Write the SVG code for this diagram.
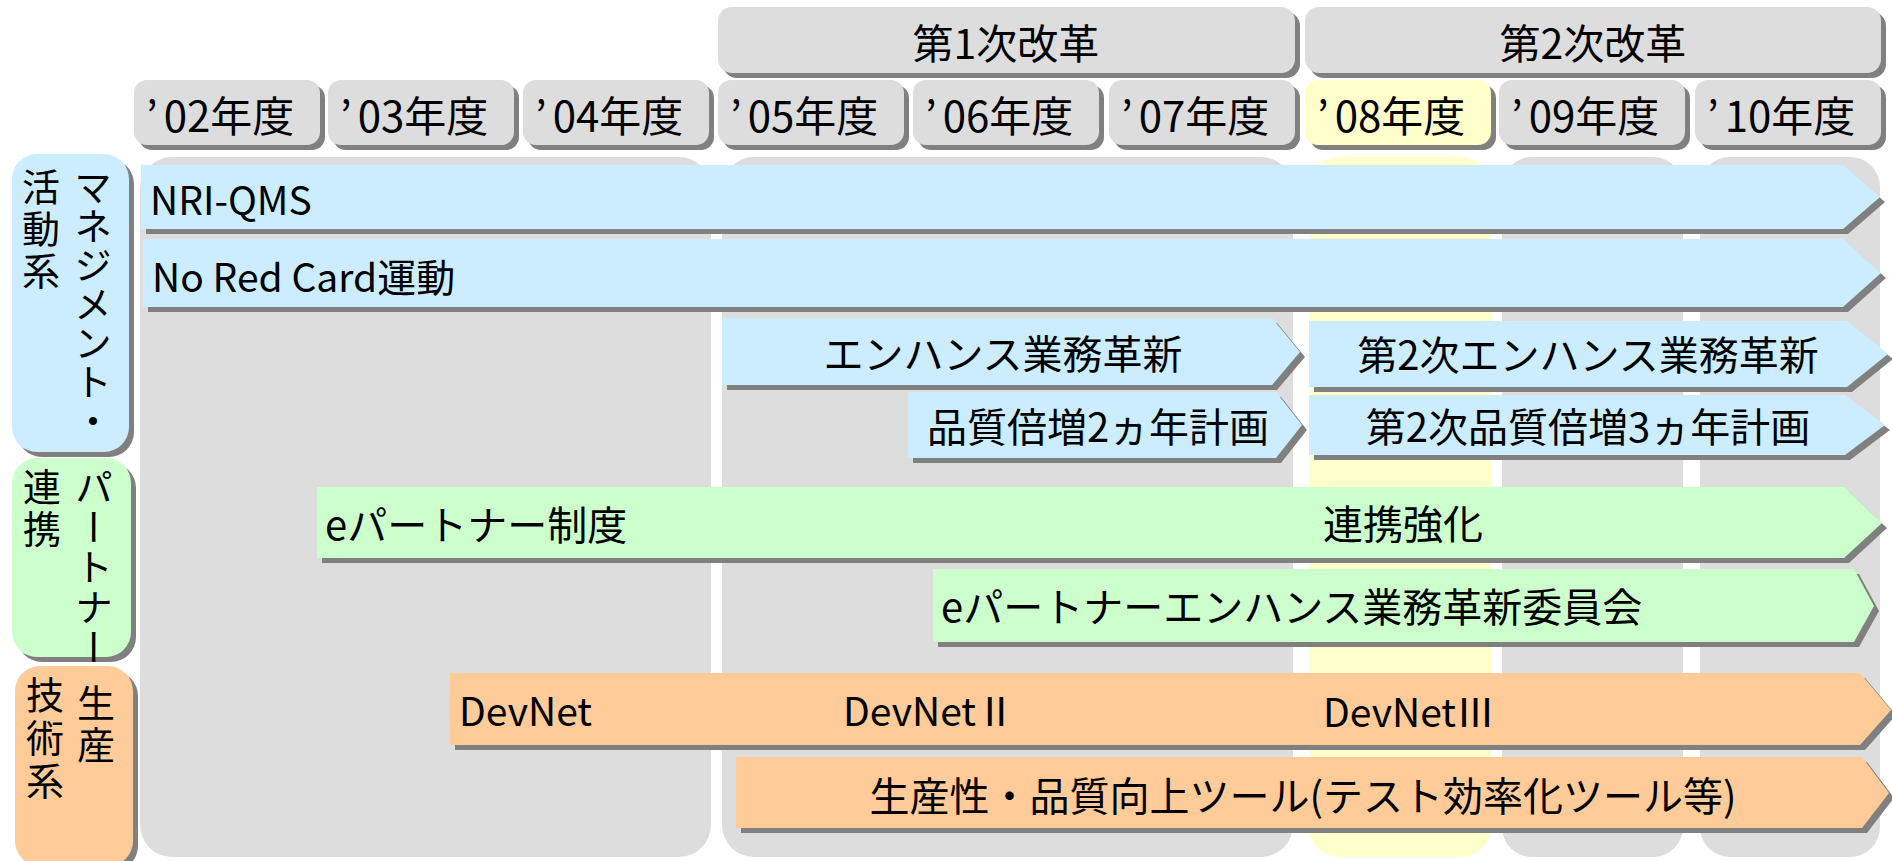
<svg xmlns="http://www.w3.org/2000/svg" width="1892" height="861" viewBox="0 0 1892 861">
<style>
text{font-family:"Noto Sans CJK JP","Noto Sans",sans-serif;fill:#000;}
.t40{font-size:40px;}
.yr{font-size:42px;}
.ph{font-size:41px;}
.lat{font-size:39px;}
.vt{font-size:38px;writing-mode:vertical-rl;}
.gray{fill:#DDDDDD;}
.sh{fill:#808080;}
.blue{fill:#CCECFF;}
.green{fill:#CCFFCC;}
.orange{fill:#FFCC99;}
.yellow{fill:#FFFFCC;}
</style>
<rect width="1892" height="861" fill="#FFFFFF"/>
<g id="columns">
<rect class="gray" x="140" y="157" width="571" height="700" rx="32"/>
<rect class="gray" x="722" y="157" width="571" height="700" rx="32"/>
<rect class="yellow" x="1309" y="157" width="182" height="700" rx="30"/>
<rect class="gray" x="1502" y="157" width="181" height="700" rx="30"/>
<rect class="gray" x="1700" y="157" width="180" height="700" rx="30"/>
</g>
<g id="phase1">
<rect class="sh" x="723" y="12" width="577" height="66" rx="14"/>
<rect class="gray" x="718" y="7" width="577" height="66" rx="14"/>
<text class="ph" x="1006" y="59" text-anchor="middle">第1次改革</text>
</g>
<g id="phase2">
<rect class="sh" x="1310" y="12" width="576" height="66" rx="14"/>
<rect class="gray" x="1305" y="7" width="576" height="66" rx="14"/>
<text class="ph" x="1593" y="59" text-anchor="middle">第2次改革</text>
</g>
<g id="y02"><rect class="sh" x="139" y="85" width="186" height="65" rx="13"/><rect class="gray" x="134" y="80" width="186" height="65" rx="13"/><text class="yr" x="146" y="132" dx="0 6">’02年度</text></g>
<g id="y03"><rect class="sh" x="333" y="85" width="186" height="65" rx="13"/><rect class="gray" x="328" y="80" width="186" height="65" rx="13"/><text class="yr" x="340" y="132" dx="0 6">’03年度</text></g>
<g id="y04"><rect class="sh" x="528" y="85" width="186" height="65" rx="13"/><rect class="gray" x="523" y="80" width="186" height="65" rx="13"/><text class="yr" x="535" y="132" dx="0 6">’04年度</text></g>
<g id="y05"><rect class="sh" x="723" y="85" width="186" height="65" rx="13"/><rect class="gray" x="718" y="80" width="186" height="65" rx="13"/><text class="yr" x="730" y="132" dx="0 6">’05年度</text></g>
<g id="y06"><rect class="sh" x="918" y="85" width="186" height="65" rx="13"/><rect class="gray" x="913" y="80" width="186" height="65" rx="13"/><text class="yr" x="925" y="132" dx="0 6">’06年度</text></g>
<g id="y07"><rect class="sh" x="1114" y="85" width="186" height="65" rx="13"/><rect class="gray" x="1109" y="80" width="186" height="65" rx="13"/><text class="yr" x="1121" y="132" dx="0 6">’07年度</text></g>
<g id="y08"><rect class="sh" x="1310" y="85" width="186" height="65" rx="13"/><rect class="yellow" x="1305" y="80" width="186" height="65" rx="13"/><text class="yr" x="1317" y="132" dx="0 6">’08年度</text></g>
<g id="y09"><rect class="sh" x="1504" y="85" width="186" height="65" rx="13"/><rect class="gray" x="1499" y="80" width="186" height="65" rx="13"/><text class="yr" x="1511" y="132" dx="0 6">’09年度</text></g>
<g id="y10"><rect class="sh" x="1700" y="85" width="186" height="65" rx="13"/><rect class="gray" x="1695" y="80" width="186" height="65" rx="13"/><text class="yr" x="1707" y="132" dx="0 6">’10年度</text></g>
<g id="cat-mgmt">
<rect class="sh" x="17" y="159" width="117" height="298" rx="25"/>
<rect class="blue" x="12" y="154" width="117" height="298" rx="25"/>
</g>
<g id="cat-tech">
<rect class="sh" x="20" y="671" width="118" height="200" rx="25"/>
<rect class="orange" x="15" y="666" width="118" height="200" rx="25"/>
<text class="vt" x="96" y="684" letter-spacing="4">生産</text>
<text class="vt" x="45" y="676" letter-spacing="5">技術系</text>
</g>
<g id="cat-partner">
<rect class="sh" x="17" y="463" width="119" height="199" rx="25"/>
<rect class="green" x="12" y="458" width="119" height="199" rx="25"/>
<text class="vt" x="94" y="468" letter-spacing="2">パートナー</text>
<text class="vt" x="42" y="468" letter-spacing="4">連携</text>
</g>
<g id="cat-mgmt-text">
<text class="vt" x="93" y="168" letter-spacing="1">マネジメント・</text>
<text class="vt" x="41" y="168" letter-spacing="4">活動系</text>
</g>
<g id="connectors">
<g id="bar-nriqms">
<polygon class="sh" points="146,170 1848,170 1885,202 1848,234 146,234"/>
<polygon class="blue" points="141,165 1843,165 1880,197 1843,229 141,229"/>
<text class="lat" x="150" y="215">NRI-QMS</text>
</g>
<g id="bar-noredcard">
<polygon class="sh" points="148,244 1848,244 1886,278 1848,312 148,312"/>
<polygon class="blue" points="143,239 1843,239 1881,273 1843,307 143,307"/>
<text class="lat" x="152" y="292">No Red Card運動</text>
</g>
<g id="bar-enhance">
<polygon class="sh" points="727,323 1277,323 1305,357 1277,390 727,390"/>
<polygon class="blue" points="722,318 1272,318 1300,352 1272,385 722,385"/>
<text class="t40" x="1003" y="369" text-anchor="middle">エンハンス業務革新</text>
</g>
<g id="bar-quality2">
<polygon class="sh" points="913,397 1281,397 1307,430 1281,463 913,463"/>
<polygon class="blue" points="908,392 1276,392 1302,425 1276,458 908,458"/>
<text class="t40" x="1098" y="442" text-anchor="middle">品質倍増2ヵ年計画</text>
</g>
<g id="bar-enhance2">
<polygon class="sh" points="1314,326 1852,326 1893,359 1852,392 1314,392"/>
<polygon class="blue" points="1309,321 1847,321 1888,354 1847,387 1309,387"/>
<text class="t40" x="1588" y="370" text-anchor="middle">第2次エンハンス業務革新</text>
</g>
<g id="bar-quality3">
<polygon class="sh" points="1314,400 1850,400 1890,430 1850,460 1314,460"/>
<polygon class="blue" points="1309,395 1845,395 1885,425 1845,455 1309,455"/>
<text class="t40" x="1588" y="442" text-anchor="middle">第2次品質倍増3ヵ年計画</text>
</g>
<g id="bar-epartner">
<polygon class="sh" points="322,492 1849,492 1887,528 1849,563 322,563"/>
<polygon class="green" points="317,487 1844,487 1882,523 1844,558 317,558"/>
<text class="t40" x="325" y="540">eパートナー制度</text>
<text class="t40" x="1323" y="539">連携強化</text>
</g>
<g id="bar-committee">
<polygon class="sh" points="938,574 1859,574 1879,611 1859,647 938,647"/>
<polygon class="green" points="933,569 1854,569 1874,606 1854,642 933,642"/>
<text class="t40" x="941" y="622">eパートナーエンハンス業務革新委員会</text>
</g>
<g id="bar-devnet">
<polygon class="sh" points="455,678 1865,678 1896,715 1865,750 455,750"/>
<polygon class="orange" points="450,673 1860,673 1891,710 1860,745 450,745"/>
<text class="lat" x="459" y="726">DevNet</text>
<text class="lat" x="843" y="726">DevNetⅡ</text>
<text class="lat" x="1323" y="727">DevNetⅢ</text>
</g>
<g id="bar-tools">
<polygon class="sh" points="741,762 1867,762 1894,798 1867,833 741,833"/>
<polygon class="orange" points="736,757 1862,757 1889,793 1862,828 736,828"/>
<text class="t40" x="1303" y="811" text-anchor="middle">生産性・品質向上ツール(テスト効率化ツール等)</text>
</g>
</g>
</svg>
